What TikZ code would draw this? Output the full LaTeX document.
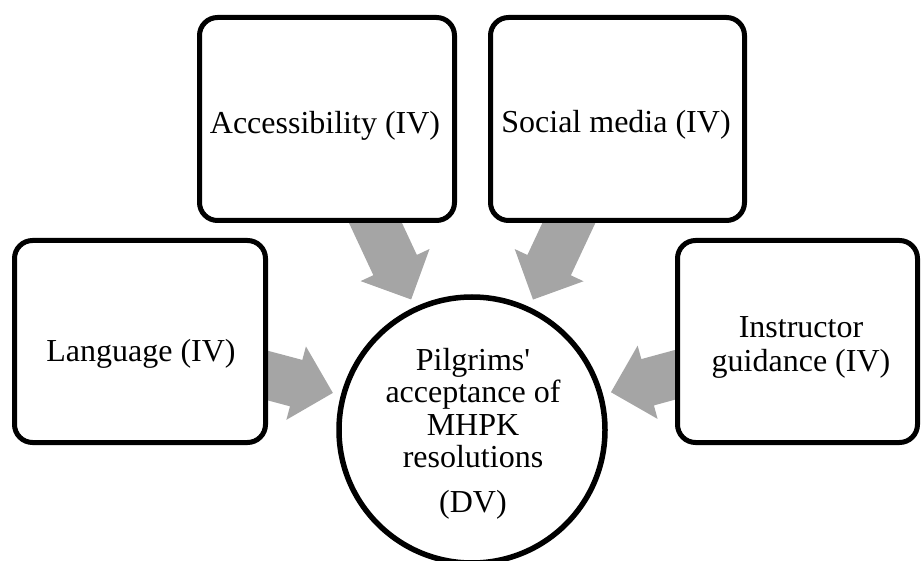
\documentclass[tikz,border=0pt]{standalone}
\usepackage{fontspec}
\setmainfont{Liberation Serif}
\newfontfamily\wordfont{Liberation Serif}
\usetikzlibrary{calc,backgrounds}
\definecolor{arrowgray}{HTML}{A5A5A5}
\newcommand{\myblockarrow}[2]{%
  \path ($(#2.center)!144pt!(#1.center)$) coordinate (bt)
        ($(bt)!38pt!(#1.center)$) coordinate (bh);
  \fill[arrowgray] ($(#1.center)!24pt!90:(bt)$) -- ($(bh)!24pt!90:(bt)$)
    -- ($(bh)!38pt!90:(bt)$) -- (bt) -- ($(bh)!38pt!-90:(bt)$)
    -- ($(bh)!24pt!-90:(bt)$) -- ($(#1.center)!24pt!-90:(bt)$) -- cycle;
}
\tikzset{
  ivbox/.style={draw=black, line width=5pt, rounded corners=18pt, fill=white,
    inner sep=0pt, rectangle},
  dvcirc/.style={draw=black, line width=5.5pt, fill=white, circle, inner sep=0pt,
    minimum size=266pt},
  txt/.style={font=\wordfont\fontsize{32}{33}\selectfont, inner sep=0pt, anchor=base, align=center}
}
\begin{document}
\begin{tikzpicture}[x=1pt,y=-1pt]
\useasboundingbox (0,0) rectangle (921,561);
% boxes
\node[ivbox, minimum width=251pt, minimum height=202pt] (lang) at (140,341.5) {};
\node[ivbox, minimum width=255pt, minimum height=203pt] (acc) at (327,119) {};
\node[ivbox, minimum width=254pt, minimum height=203pt] (soc) at (617.5,119) {};
\node[ivbox, minimum width=240pt, minimum height=202pt] (ins) at (797.5,341.5) {};
\node[dvcirc] (dv) at (472,430) {};
% arrows behind
\begin{pgfonlayer}{background}
  \myblockarrow{lang}{dv}
  \myblockarrow{acc}{dv}
  \myblockarrow{soc}{dv}
  \myblockarrow{ins}{dv}
\end{pgfonlayer}
% texts
\node[txt] (tlang) at (141,361.5) {Language (IV)};
\node[txt] (tacc) at (325,133.5) {Accessibility (IV)};
\node[txt] (tsoc) at (616,133) {Social media (IV)};
\node[txt, font=\wordfont\fontsize{32}{34.5}\selectfont] (tins) at (801,371.7) {Instructor\\guidance (IV)};
\node[txt, font=\wordfont\fontsize{32}{32.5}\selectfont] (tdv) at (473,512) {Pilgrims'\\acceptance of\\MHPK\\resolutions\\[12pt](DV)};
\end{tikzpicture}
\end{document}
